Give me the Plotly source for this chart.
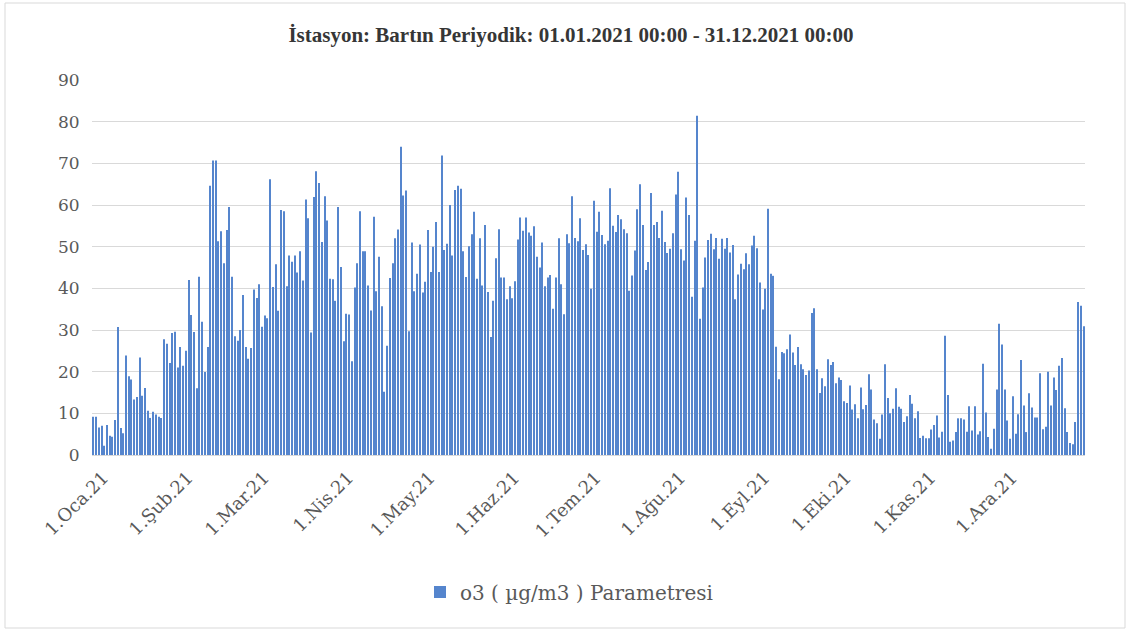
import pandas as pd
import plotly.graph_objects as go

jan = [9.2, 9.2, 6.6, 7.0, 2.2, 7.2, 4.6, 4.4, 8.4, 30.7, 6.5, 5.2, 23.9, 18.9, 18.1, 13.3, 13.9, 23.4, 14.2, 16.1,
       10.6, 8.9, 10.4, 9.7, 9.2, 8.9, 27.8, 26.7, 22.1, 29.3, 29.6]
feb = [21.0, 25.9, 21.4, 25.0, 42.0, 33.6, 29.5, 16.0, 42.8, 32.0, 19.9, 25.9, 64.6, 70.7, 70.7, 51.3, 53.7, 46.0,
       54.0, 59.5, 42.8, 28.5, 27.4, 30.0, 38.4, 25.9, 23.1, 25.7]
mar = [39.7, 37.7, 41.0, 30.8, 33.5, 32.8, 66.2, 40.3, 45.8, 34.6, 58.8, 58.5, 40.5, 47.9, 46.4, 47.9, 43.8, 48.9,
       41.9, 61.3, 56.8, 29.4, 61.9, 68.1, 65.3, 51.1, 62.1, 56.3, 42.3, 42.2, 37.0]
apr = [59.5, 45.1, 27.3, 33.9, 33.7, 22.5, 40.2, 46.0, 58.5, 48.9, 48.9, 40.7, 34.7, 57.2, 39.3, 47.6, 35.7, 15.2,
       26.2, 42.5, 46.0, 52.0, 54.1, 74.0, 62.3, 63.5, 29.7, 51.0, 39.3, 43.5]
may = [50.5, 39.0, 41.6, 54.0, 43.9, 50.0, 55.9, 43.9, 71.9, 49.2, 50.7, 60.0, 47.9, 63.6, 64.6, 63.9, 48.9, 42.7,
       50.1, 53.0, 58.4, 42.3, 52.0, 40.7, 55.2, 39.1, 28.3, 37.0, 47.2, 54.2, 42.6]
jun = [42.6, 37.4, 40.5, 37.6, 41.7, 51.7, 57.0, 53.8, 57.0, 53.4, 52.6, 54.9, 47.6, 45.0, 51.0, 40.5, 42.6, 43.2,
       35.1, 42.6, 52.0, 41.0, 33.8, 53.0, 50.8, 62.1, 52.1, 51.3, 56.8, 49.2]
jul = [50.6, 48.0, 39.9, 61.0, 53.6, 58.4, 52.8, 50.6, 51.4, 64.0, 55.0, 53.5, 57.6, 56.6, 54.2, 53.2, 39.4, 43.1,
       49.1, 59.0, 65.0, 55.2, 44.4, 46.3, 62.9, 55.2, 55.9, 52.1, 58.6, 51.1, 48.5]
aug = [49.5, 53.2, 62.5, 68.0, 49.4, 46.7, 61.8, 57.6, 38.0, 51.4, 81.4, 32.7, 40.2, 47.4, 51.6, 53.1, 49.4, 52.1,
       47.1, 51.9, 49.5, 52.1, 48.6, 50.4, 37.4, 43.3, 45.9, 44.6, 48.4, 45.8, 50.3]
sep = [52.6, 49.6, 41.4, 34.9, 39.9, 59.1, 43.5, 43.0, 26.0, 18.2, 24.7, 24.4, 25.4, 28.9, 24.6, 21.6, 25.9, 21.8,
       20.6, 19.2, 20.3, 34.1, 35.2, 20.6, 14.9, 18.4, 16.5, 23.0, 21.6, 22.3]
oct_ = [17.2, 18.6, 18.0, 12.9, 12.5, 16.7, 10.9, 12.2, 8.8, 16.2, 11.0, 12.0, 19.4, 15.7, 8.5, 7.6, 3.9, 9.7,
        21.8, 13.7, 10.0, 11.1, 16.0, 11.6, 11.1, 7.9, 9.3, 14.4, 12.3, 8.8, 10.5]
nov = [4.1, 4.6, 4.0, 4.0, 6.1, 7.2, 9.5, 4.2, 5.6, 28.6, 14.4, 3.2, 3.5, 5.5, 8.8, 8.8, 8.5, 5.6, 11.7, 5.9,
       11.7, 4.9, 5.7, 21.9, 10.2, 4.3, 1.5, 6.3, 15.7, 31.5]
dec = [26.5, 15.7, 8.3, 3.9, 14.1, 5.1, 9.8, 22.8, 11.9, 5.5, 14.8, 11.4, 9.0, 9.0, 19.6, 6.2, 6.8, 20.0, 11.9,
       18.6, 15.6, 21.4, 23.3, 11.2, 5.5, 2.9, 2.6, 7.9, 36.7, 35.8, 30.9]

values = jan + feb + mar + apr + may + jun + jul + aug + sep + oct_ + nov + dec
dates = pd.date_range("2021-01-01", "2021-12-31", freq="D")

tick_vals = pd.date_range("2021-01-01", "2021-12-01", freq="MS")
tick_text = ["1.Oca.21", "1.Şub.21", "1.Mar.21", "1.Nis.21", "1.May.21", "1.Haz.21",
             "1.Tem.21", "1.Ağu.21", "1.Eyl.21", "1.Eki.21", "1.Kas.21", "1.Ara.21"]

series_name = "o3 ( µg/m3 ) Parametresi"
title_text = "İstasyon: Bartın Periyodik: 01.01.2021 00:00 - 31.12.2021 00:00"

fig = go.Figure()
fig.add_trace(go.Bar(x=dates, y=values, name=series_name,
                     marker=dict(color="#5585cd", line=dict(width=0))))

L, R, T, B = 92, 1085, 80, 455
W, H = 1129, 633
pw, ph = R - L, B - T

def px_x(p):
    return (p - L) / pw

def px_y(p):
    return (B - p) / ph

fig.update_layout(
    width=W, height=H,
    margin=dict(l=L, r=W - R, t=T, b=H - B),
    paper_bgcolor="white", plot_bgcolor="white",
    bargap=0.62,
    showlegend=True,
    title=dict(text="<b>" + title_text + "</b>", x=px_x(571), xref="paper", xanchor="center",
               y=1 - 35 / H, yref="container", yanchor="middle",
               font=dict(family="Liberation Serif", size=21, color="#363636")),
    legend=dict(orientation="h", x=px_x(420), xanchor="left", y=px_y(592), yanchor="middle",
                font=dict(family="DejaVu Serif", size=20, color="#595959"),
                itemwidth=30, bgcolor="rgba(0,0,0,0)"),
    xaxis=dict(type="date", range=["2020-12-31 12:00", "2021-12-31 12:00"],
               tickvals=tick_vals, ticktext=tick_text, tickangle=-45,
               tickfont=dict(family="DejaVu Serif", size=18, color="#595959"),
               ticklabelshift=10,
               showgrid=False, showline=True, linecolor="#d9d9d9", linewidth=1,
               ticks="outside", ticklen=4, tickcolor="rgba(0,0,0,0)"),
    yaxis=dict(range=[0, 90], dtick=10, showgrid=True, gridcolor="#d9d9d9", gridwidth=1.3,
               zeroline=False, showline=False,
               tickfont=dict(family="DejaVu Serif", size=17, color="#595959"),
               ticks="outside", ticklen=8, tickcolor="rgba(0,0,0,0)"),
    shapes=[dict(type="rect", xref="paper", yref="paper",
                 x0=px_x(5), x1=px_x(1125), y0=px_y(628), y1=px_y(3),
                 line=dict(color="#d9d9d9", width=1), fillcolor="rgba(0,0,0,0)", layer="below")],
)

fig.write_html("out.html", config={"displayModeBar": False},
               post_script="document.body.style.margin='0px';")
